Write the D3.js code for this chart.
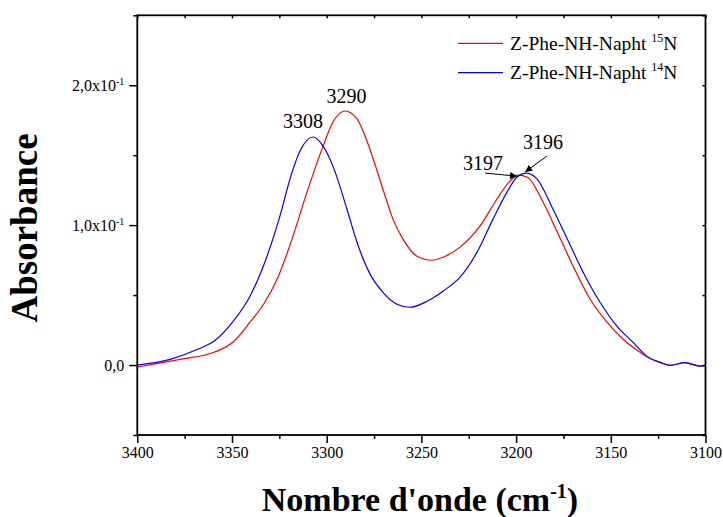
<!DOCTYPE html>
<html>
<head>
<meta charset="utf-8">
<script src="https://cdn.jsdelivr.net/npm/d3@7/dist/d3.min.js"></script>
<style>
	body { margin: 0; background: #ffffff; }
</style>
</head>
<body>
<div id="myChart"></div>
<script>
// colors and font
var bcolor = '#ffffff';
var tcolor = '#000000';
var font = "Liberation Serif";
var red = "#ff0000";
var blue = "#0000ff";

// Z-Phe-NH-Napht 15N (red)
var wave15 = [3400, 3377.5, 3359.5, 3348.9, 3340.5, 3333.1, 3326.2, 3317.8, 3310.4, 3301.9, 3296.7, 3290.3,
	3284.0, 3278.7, 3275.6, 3270.3, 3265.0, 3259.7, 3252.3, 3244.4, 3238.6, 3229.6, 3219.1, 3210.1, 3203.3, 3199.0,
	3194.2, 3185.8, 3178.4, 3169.9, 3160.9, 3152.0, 3143.5, 3134.5, 3129.0, 3124.0, 3118.7, 3110.8, 3102.9, 3100];
var abs15 = [-0.0014, 0.0041, 0.0091, 0.0170, 0.0306, 0.0440, 0.0613, 0.0921, 0.1236, 0.1565, 0.1737, 0.1816,
	0.1759, 0.1600, 0.1480, 0.1257, 0.1043, 0.0900, 0.0778, 0.0749, 0.0771, 0.0843, 0.0993, 0.1187, 0.1315, 0.1358,
	0.1344, 0.1165, 0.0955, 0.0707, 0.0470, 0.0306, 0.0184, 0.0091, 0.0045, 0.0019, -0.0002, 0.0017, -0.0007, -0.0002];

// Z-Phe-NH-Napht 14N (blue)
var wave14 = [3400, 3382.7, 3366.9, 3359.5, 3349.4, 3340.5, 3331.5, 3324.7, 3319.4, 3314.1, 3307.2,
	3301.9, 3296.7, 3289.3, 3284.0, 3277.1, 3270.3, 3262.9, 3256.0, 3247.0, 3238.6, 3229.6, 3220.6, 3212.2,
	3204.8, 3199.5, 3194.5, 3188.9, 3180.5, 3173.1, 3164.6, 3155.7, 3146.7, 3138.2, 3130.9, 3124.0, 3118.7,
	3110.8, 3102.9, 3100];
var abs14 = [0.0000, 0.0041, 0.0120, 0.0170, 0.0312, 0.0492, 0.0778, 0.1064, 0.1329, 0.1530, 0.1630,
	0.1565, 0.1422, 0.1114, 0.0878, 0.0650, 0.0520, 0.0435, 0.0413, 0.0456, 0.0528, 0.0628, 0.0807, 0.1043,
	0.1236, 0.1344, 0.1372, 0.1329, 0.1114, 0.0905, 0.0664, 0.0449, 0.0277, 0.0162, 0.0062, 0.0019, -0.0002,
	0.0017, -0.0007, -0.0002];

var xTicks = [3400, 3350, 3300, 3250, 3200, 3150, 3100];
var xMinorTicks = [3375, 3325, 3275, 3225, 3175, 3125];
var yTicks = [0, 0.1, 0.2];
var yTickLabels = ["0,0", "1,0x10", "2,0x10"];
var yTickExp = ["", "-1", "-1"];
var yMinorTicks = [-0.05, 0.05, 0.15, 0.25];

// peak annotations
var peakLabels = ["3308", "3290", "3197", "3196"];
var peakTextX = [3312.5, 3289.5, 3217.5, 3185.8];
var peakTextY = [0.1694, 0.1873, 0.1394, 0.1544];
var arrowFromX = [3216.4, 3183.7];
var arrowFromY = [0.1372, 0.1494];
var arrowToX = [3199.5, 3195.2];
var arrowToY = [0.1350, 0.1380];

var seriesNames = ["15", "14"];

function plotSpectrum() {
	var width = 723, height = 517;
	var margin = {left: 137.3, top: 15.3, right: 723 - 705.5, bottom: 517 - 435};

	var svg = d3.select('#myChart')
		.append('svg')
		.attr('width', width)
		.attr('height', height)
		.style('background', bcolor)
		.style('font-family', font);

	var x = d3.scaleLinear()
		.domain([3400, 3100])
		.range([margin.left, width - margin.right]);
	var y = d3.scaleLinear()
		.domain([-0.05, 0.25])
		.range([height - margin.bottom, margin.top]);

	// curves
	var line = d3.line()
		.x(function(d) { return x(d[0]); })
		.y(function(d) { return y(d[1]); })
		.curve(d3.curveMonotoneX);

	var d15 = wave15.map(function(w, i) { return [w, abs15[i]]; });
	var d14 = wave14.map(function(w, i) { return [w, abs14[i]]; });

	svg.append("path").datum(d15)
		.attr("d", line).attr("fill", "none")
		.attr("stroke", red).attr("stroke-width", 1.2);
	svg.append("path").datum(d14)
		.attr("d", line).attr("fill", "none")
		.attr("stroke", blue).attr("stroke-width", 1.2);

	// frame
	svg.append("rect")
		.attr("x", x(3400)).attr("y", y(0.25))
		.attr("width", x(3100) - x(3400)).attr("height", y(-0.05) - y(0.25))
		.attr("fill", "none").attr("stroke", tcolor).attr("stroke-width", 1.8);

	// bottom axis
	var xAxis = svg.append("g")
		.attr("transform", "translate(0," + y(-0.05) + ")")
		.call(d3.axisBottom(x).tickValues(xTicks).tickSize(8).tickSizeOuter(0).tickFormat(d3.format("d")));
	svg.append("g")
		.attr("transform", "translate(0," + y(-0.05) + ")")
		.call(d3.axisBottom(x).tickValues(xMinorTicks).tickSize(4).tickSizeOuter(0).tickFormat(""));

	// left axis
	var yAxis = svg.append("g")
		.attr("transform", "translate(" + x(3400) + ",0)")
		.call(d3.axisLeft(y).tickValues(yTicks).tickSize(8).tickSizeOuter(0).tickPadding(5));
	svg.append("g")
		.attr("transform", "translate(" + x(3400) + ",0)")
		.call(d3.axisLeft(y).tickValues(yMinorTicks).tickSize(4).tickSizeOuter(0).tickFormat(""));

	// top / right small inner ticks
	svg.append("g")
		.attr("transform", "translate(0," + y(0.25) + ")")
		.call(d3.axisTop(x).tickValues(xTicks.concat(xMinorTicks)).tickSize(-3).tickSizeOuter(0).tickFormat(""));
	svg.append("g")
		.attr("transform", "translate(" + x(3100) + ",0)")
		.call(d3.axisRight(y).tickValues(yTicks.concat(yMinorTicks)).tickSize(-3).tickSizeOuter(0).tickFormat(""));

	svg.selectAll(".domain").remove();
	svg.selectAll(".tick line").attr("stroke", tcolor).attr("stroke-width", 1.5);

	xAxis.selectAll("text")
		.attr("font-family", font).attr("font-size", 16).attr("fill", tcolor)
		.attr("dy", "0.71em").attr("y", 12);

	yAxis.selectAll("text").each(function(d, i) {
		var t = d3.select(this);
		t.text(null)
			.attr("font-family", font).attr("font-size", 16).attr("fill", tcolor)
			.attr("dy", "0.32em");
		t.append("tspan").text(yTickLabels[i]);
		if (yTickExp[i] != "") {
			t.append("tspan").attr("dy", "-0.55em").attr("font-size", 10).text(yTickExp[i]);
		}
	});

	// axis titles
	svg.append("text")
		.attr("transform", "translate(37," + 228 + ") rotate(-90)")
		.attr("text-anchor", "middle")
		.attr("font-family", font).attr("font-weight", "bold").attr("font-size", 37)
		.attr("fill", tcolor)
		.text("Absorbance");

	var xt = svg.append("text")
		.attr("x", 420).attr("y", 511)
		.attr("text-anchor", "middle")
		.attr("font-family", font).attr("font-weight", "bold").attr("font-size", 34)
		.attr("fill", tcolor);
	xt.append("tspan").text("Nombre d'onde (cm");
	xt.append("tspan").attr("dy", -13).attr("font-size", 20).text("-1");
	xt.append("tspan").attr("dy", 13).text(")");

	// legend
	var legColors = [red, blue];
	var legY = [43.3, 72.7];
	for (var i = 0; i < seriesNames.length; i++) {
		svg.append("line")
			.attr("x1", 458).attr("x2", 503)
			.attr("y1", legY[i]).attr("y2", legY[i])
			.attr("stroke", legColors[i]).attr("stroke-width", 1.2);
		var lt = svg.append("text")
			.attr("x", 510).attr("y", legY[i] + 6.3)
			.attr("font-family", font).attr("font-size", 19.5).attr("fill", tcolor);
		lt.append("tspan").text("Z-Phe-NH-Napht ");
		lt.append("tspan").attr("dy", -8).attr("font-size", 12).text(seriesNames[i]);
		lt.append("tspan").attr("dy", 8).text("N");
	}

	// peak labels
	for (var j = 0; j < peakLabels.length; j++) {
		svg.append("text")
			.attr("x", x(peakTextX[j])).attr("y", y(peakTextY[j]))
			.attr("text-anchor", "middle")
			.attr("font-family", font).attr("font-size", 20).attr("fill", tcolor)
			.text(peakLabels[j]);
	}

	// arrows
	svg.append("defs").append("marker")
		.attr("id", "arrowhead")
		.attr("viewBox", "0 0 10 10")
		.attr("refX", 10).attr("refY", 5)
		.attr("markerWidth", 10).attr("markerHeight", 7)
		.attr("markerUnits", "userSpaceOnUse")
		.attr("orient", "auto")
		.append("path").attr("d", "M0,0 L10,5 L0,10 z").attr("fill", tcolor);

	for (var k = 0; k < arrowFromX.length; k++) {
		svg.append("line")
			.attr("x1", x(arrowFromX[k])).attr("y1", y(arrowFromY[k]))
			.attr("x2", x(arrowToX[k])).attr("y2", y(arrowToY[k]))
			.attr("stroke", tcolor).attr("stroke-width", 1)
			.attr("marker-end", "url(#arrowhead)");
	}
}

function init() {
	plotSpectrum();
}

document.addEventListener('DOMContentLoaded', init, false);
</script>
</body>
</html>
